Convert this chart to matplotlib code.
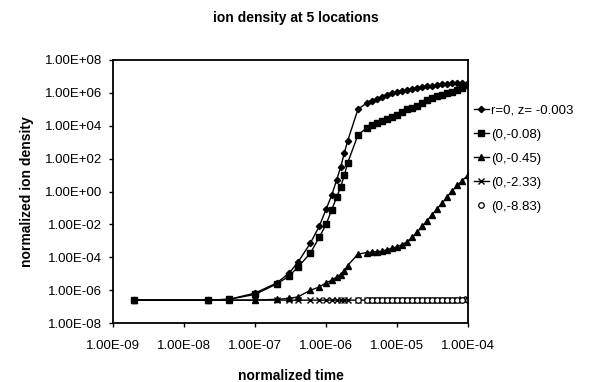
import numpy as np
import matplotlib
matplotlib.use("Agg")
import matplotlib.pyplot as plt
from matplotlib.ticker import FixedLocator, FuncFormatter, NullLocator

plt.rcParams['font.family'] = ['Liberation Sans', 'DejaVu Sans']

# normalized time of the output steps
time = np.array([2e-9, 2.2e-8, 4.3e-8, 1e-7, 2e-7, 3e-7, 4e-7, 6e-7, 8e-7,
                 1e-6, 1.2e-6, 1.4e-6, 1.6e-6, 1.8e-6, 2e-6, 2.8e-6, 3.7e-6,
                 4.4e-6, 5.2e-6, 6.1e-6, 7.2e-6, 8.5e-6, 1e-5, 1.18e-5,
                 1.38e-5, 1.63e-5, 1.92e-5, 2.25e-5, 2.65e-5, 3.1e-5,
                 3.65e-5, 4.3e-5, 5e-5, 5.9e-5, 7e-5, 8.2e-5, 1e-4])

# log10 of normalized ion density
log_r0_z0003 = [-6.6, -6.6, -6.55, -6.17, -5.56, -4.96, -4.3, -3.13, -2.1,
                -1.06, -0.21, 0.7, 1.49, 2.34, 3.07, 5.0, 5.38, 5.51, 5.63,
                5.75, 5.87, 6.0, 6.05, 6.11, 6.17, 6.23, 6.3, 6.36, 6.39,
                6.42, 6.48, 6.52, 6.55, 6.58, 6.6, 6.6, 6.62]
log_z008 = [-6.6, -6.6, -6.55, -6.25, -5.62, -5.14, -4.59, -3.74, -2.77,
            -1.98, -1.1, -0.35, 0.28, 1.0, 1.73, 3.44, 3.86, 4.05, 4.17,
            4.29, 4.44, 4.56, 4.68, 4.84, 5.02, 5.11, 5.2, 5.38, 5.54, 5.66,
            5.78, 5.9, 5.99, 6.08, 6.17, 6.27, 6.45]
log_z045 = [-6.6, -6.6, -6.6, -6.6, -6.55, -6.5, -6.4, -6.0, -5.8, -5.55,
            -5.38, -5.2, -5.05, -4.85, -4.5, -3.8, -3.71, -3.68, -3.65,
            -3.62, -3.53, -3.44, -3.35, -3.22, -3.04, -2.77, -2.46, -2.1,
            -1.76, -1.4, -1.03, -0.7, -0.33, 0.03, 0.37, 0.67, 1.0]
log_z233 = [-6.6] * 30 + [-6.59, -6.58, -6.58, -6.57, -6.57, -6.56, -6.56]
log_z883 = [-6.6] * 15 + [-6.6] * 15 + [-6.59, -6.59, -6.58, -6.58, -6.58,
                                         -6.57, -6.57]
circle_start = 15  # circles only visible from 2.8e-6 on

labels = ['r=0, z= -0.003', '(0,-0.08)', '(0,-0.45)', '(0,-2.33)', '(0,-8.83)']
x_ticks = [1e-9, 1e-8, 1e-7, 1e-6, 1e-5, 1e-4]
y_ticks = [1e-8, 1e-6, 1e-4, 1e-2, 1e0, 1e2, 1e4, 1e6, 1e8]


def sci_label(v, pos=None):
    exp = int(round(np.log10(v)))
    return '1.00E%s%02d' % ('+' if exp >= 0 else '-', abs(exp))


fig = plt.figure(figsize=(5.89, 3.82), dpi=100)
ax = fig.add_axes([0.192, 0.154, 0.603, 0.689])

ax.plot(time, 10 ** np.array(log_r0_z0003), '-', color='black', lw=1.0,
        marker='D', ms=3.2, label=labels[0])
ax.plot(time, 10 ** np.array(log_z008), '-', color='black', lw=1.0,
        marker='s', ms=4.2, label=labels[1])
ax.plot(time, 10 ** np.array(log_z045), '-', color='black', lw=1.0,
        marker='^', ms=4.2, label=labels[2])
ax.plot(time, 10 ** np.array(log_z233), '-', color='black', lw=1.0,
        marker='x', ms=4, mew=1.0, label=labels[3])
ax.plot(time[circle_start:], 10 ** np.array(log_z883[circle_start:]),
        linestyle='none', color='black', marker='o', ms=4,
        mfc='white', mew=0.9, label=labels[4])

ax.set_xscale('log')
ax.set_yscale('log')
ax.set_xlim(1e-9, 1e-4)
ax.set_ylim(1e-8, 1e8)
ax.xaxis.set_major_locator(FixedLocator(x_ticks))
ax.yaxis.set_major_locator(FixedLocator(y_ticks))
ax.xaxis.set_minor_locator(NullLocator())
ax.yaxis.set_minor_locator(NullLocator())
ax.xaxis.set_major_formatter(FuncFormatter(sci_label))
ax.yaxis.set_major_formatter(FuncFormatter(sci_label))
ax.tick_params(axis='both', direction='out', length=3, width=1,
               labelsize=9.5, pad=5)
ax.tick_params(axis='x', pad=9)
for sp in ax.spines.values():
    sp.set_linewidth(1.3)

ax.set_xlabel('normalized time', fontsize=10, fontweight='bold', labelpad=12)
ax.set_ylabel('normalized ion density', fontsize=10, fontweight='bold',
              labelpad=8)
fig.text(0.503, 0.953, 'ion density at 5 locations', ha='center',
         va='center', fontsize=10, fontweight='bold')

ax.legend(loc='upper left', bbox_to_anchor=(0.805, 0.727),
          bbox_transform=fig.transFigure, frameon=False, fontsize=9.5,
          handlelength=1.1, handletextpad=0.2, labelspacing=0.9,
          borderaxespad=0, borderpad=0)

fig.savefig('out.png', dpi=100)
